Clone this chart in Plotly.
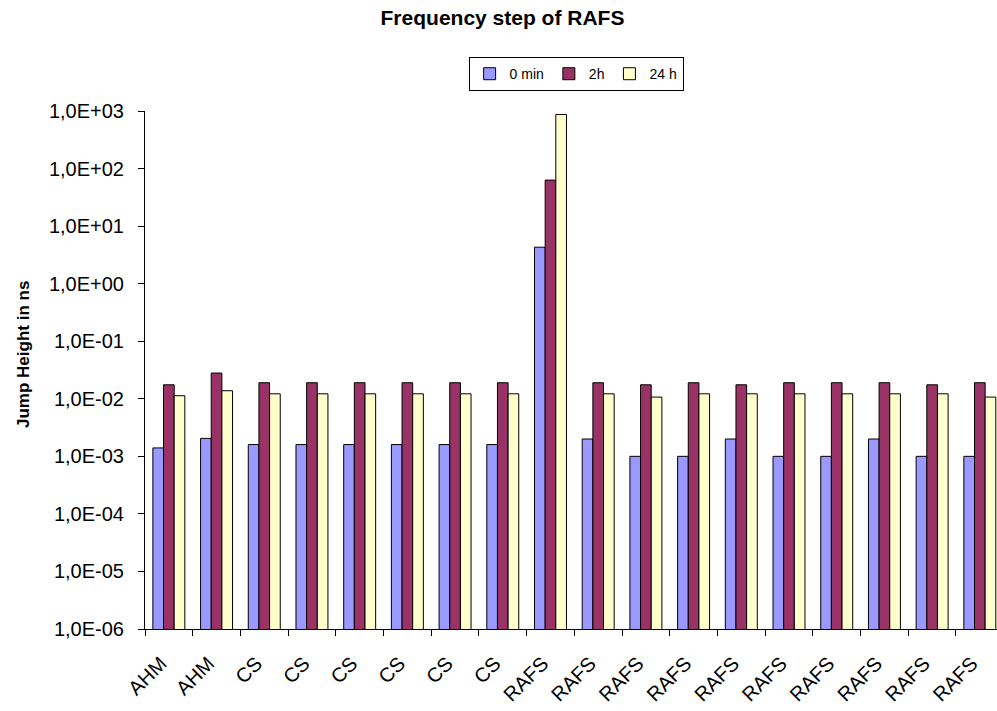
import plotly.graph_objects as go

categories = ["AHM", "AHM", "CS", "CS", "CS", "CS", "CS", "CS", "RAFS",
              "RAFS", "RAFS", "RAFS", "RAFS", "RAFS", "RAFS", "RAFS", "RAFS", "RAFS"]
series_names = ["0 min", "2h", "24 h"]
vals_0min = [1.4e-3, 2.05e-3, 1.6e-3, 1.6e-3, 1.6e-3, 1.6e-3, 1.6e-3, 1.6e-3, 4.3,
             2.0e-3, 1.0e-3, 1.0e-3, 2.0e-3, 1.0e-3, 1.0e-3, 2.0e-3, 1.0e-3, 1.0e-3]
vals_2h = [0.0175, 0.028, 0.019, 0.019, 0.019, 0.019, 0.019, 0.019, 63,
           0.019, 0.0175, 0.019, 0.0175, 0.019, 0.019, 0.019, 0.0175, 0.019]
vals_24h = [0.0113, 0.0138, 0.0122, 0.0122, 0.0122, 0.0122, 0.0122, 0.0122, 870,
            0.0122, 0.0107, 0.0122, 0.0122, 0.0122, 0.0122, 0.0122, 0.0122, 0.0107]
colors = ["#9999FF", "#993366", "#FFFFCC"]
ytick_vals = [1e-6, 1e-5, 1e-4, 1e-3, 1e-2, 1e-1, 1e0, 1e1, 1e2, 1e3]
ytick_text = ["1,0E-06", "1,0E-05", "1,0E-04", "1,0E-03", "1,0E-02",
              "1,0E-01", "1,0E+00", "1,0E+01", "1,0E+02", "1,0E+03"]

FONT = "Liberation Sans, Arial, sans-serif"
xs = list(range(len(categories)))
boundaries = [i - 0.5 for i in range(len(categories) + 1)]
xrange = [-0.5, 17.36]

fig = go.Figure()
for name, vals, col in zip(series_names, [vals_0min, vals_2h, vals_24h], colors):
    fig.add_trace(go.Bar(x=xs, y=vals, name=name, marker_color=col,
                         marker_line=dict(color="black", width=1)))

# helper trace for boundary ticks axis
fig.add_trace(go.Scatter(x=[0], y=[1e-6], xaxis="x2", mode="markers",
                         marker=dict(opacity=0), showlegend=False, hoverinfo="skip"))

fig.update_layout(
    width=997, height=711,
    margin=dict(l=145, r=0, t=111, b=82, autoexpand=False),
    paper_bgcolor="white", plot_bgcolor="white",
    font=dict(family=FONT, color="black"),
    barmode="group", bargap=0.33, bargroupgap=0,
    title=dict(text="<b>Frequency step of RAFS</b>", x=0.504, xanchor="center",
               y=0.975, yanchor="middle", font=dict(size=21, family=FONT, color="black")),
    legend=dict(orientation="h", x=0.506, xanchor="center", y=1.104, yanchor="top",
                bordercolor="black", borderwidth=1, font=dict(size=14, family=FONT),
                itemwidth=30, tracegroupgap=0),
    xaxis=dict(range=xrange, tickmode="array", tickvals=xs, ticktext=categories,
               tickangle=-45, ticks="", showgrid=False, zeroline=False,
               showline=True, linecolor="black", linewidth=1, automargin=False,
               ticklabelstandoff=14, ticklabelshift=-8,
               tickfont=dict(size=20, family=FONT)),
    xaxis2=dict(range=xrange, overlaying="x", side="bottom", tickmode="array",
                tickvals=boundaries, ticks="outside", ticklen=6, tickcolor="black",
                showticklabels=False, showgrid=False, zeroline=False, showline=False,
                automargin=False),
    yaxis=dict(type="log", range=[-6, 3], tickmode="array", tickvals=ytick_vals,
               ticktext=ytick_text, ticks="outside", ticklen=6, tickcolor="black",
               showgrid=False, zeroline=False, showline=True, linecolor="black",
               linewidth=1, tickfont=dict(size=20, family=FONT), ticklabelstandoff=10,
               automargin=False),
    annotations=[dict(text="<b>Jump Height in ns</b>", textangle=-90,
                      xref="paper", yref="paper", x=(24 - 145) / 852, y=0.529,
                      xanchor="center", yanchor="middle", showarrow=False,
                      font=dict(size=17, family=FONT, color="black"))],
)

fig.write_html("out.html", config={"displayModeBar": False},
               post_script="document.body.style.margin='0';document.body.style.overflow='hidden';")
